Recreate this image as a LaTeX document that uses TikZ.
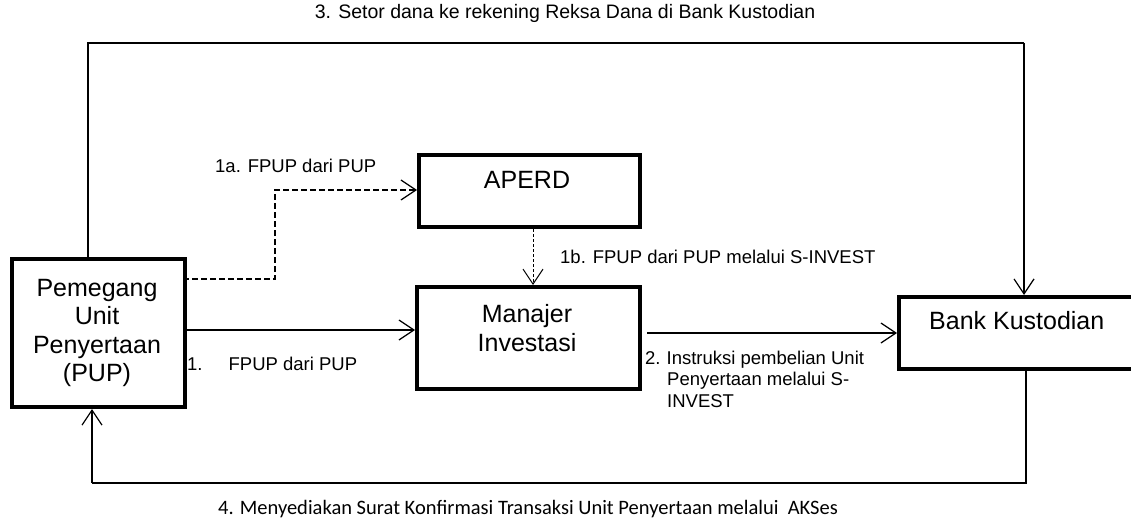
\documentclass[tikz,border=0pt]{standalone}
\usepackage{fontspec}
\setmainfont{Liberation Sans}
\newfontfamily\calfont{Carlito}
\usetikzlibrary{arrows.meta}
\begin{document}
\begin{tikzpicture}[x=1pt,y=-1pt,
  boxst/.style={draw,line width=4pt,minimum width=#1,inner sep=0pt,anchor=north west},
  conn/.style={line width=1.3pt,-{Straight Barb[length=15pt,width=20pt,line width=1.2pt]}},
  plain/.style={line width=1.3pt},
  dashA/.style={line width=1.3pt,dash pattern=on 6pt off 3pt,-{Straight Barb[length=15pt,width=20pt,line width=1.2pt]}},
  dashB/.style={line width=0.9pt,dash pattern=on 3pt off 2pt,-{Straight Barb[length=15pt,width=20pt,line width=1.0pt]}},
  bigtxt/.style={font=\fontsize{25}{28.5}\selectfont,inner sep=0pt},
  lbl/.style={font=\fontsize{18.5}{21.5}\selectfont,inner sep=0pt,align=left},
]
\useasboundingbox (0,0) rectangle (1131,529);
% boxes
\node[boxst=173pt,minimum height=148pt] (pup) at (10,257) {};
\node[boxst=221pt,minimum height=72pt] (aperd) at (417,153) {};
\node[boxst=223pt,minimum height=102pt] (mi) at (415,285) {};
\node[boxst=245pt,minimum height=72pt] (bk) at (897,295) {};
% box texts
\node[bigtxt,align=center,anchor=center] (pupt) at (97,333) {Pemegang\\Unit\\Penyertaan\\(PUP)};
\node[bigtxt,anchor=base] (aperdt) at (527,189) {APERD};
\node[bigtxt,align=center,anchor=center] (mit) at (527,328) {Manajer\\Investasi};
\node[bigtxt,anchor=base west] (bkt) at (929,329) {Bank Kustodian};
% coordinates for routing
\coordinate (c1) at (88,43);
\coordinate (c2) at (1024,43);
\coordinate (c3) at (1026,483);
\coordinate (c4) at (92,483);
\coordinate (d1) at (183,279);
\coordinate (d2) at (275,279);
\coordinate (d3) at (275,190);
% connectors
\draw[plain] (pup.north -| c1) -- (c1) -- (c2);
\draw[conn] (c2) -- (bk.north -| c2);
\draw[plain] (bk.south -| c3) -- (c3) -- (c4);
\draw[conn] (c4) -- (pup.south -| c4);
\draw[conn] (pup.east |- 0,330) -- (mi.west |- 0,330);
\draw[dashA] (d1) -- (d2) -- (d3) -- (aperd.west |- d3);
\draw[dashB] (aperd.south -| 533,0) -- (mi.north -| 533,0);
\draw[conn] ([xshift=5pt]mi.east |- 0,333) -- (bk.west |- 0,333);
% labels
\node[font=\fontsize{19.5}{22}\selectfont,inner sep=0pt,anchor=base] (l3) at (565,19) {3. Setor dana ke rekening Reksa Dana di Bank Kustodian};
\node[font=\calfont\fontsize{20.5}{23}\selectfont,inner sep=0pt,anchor=base] (l4) at (528,514) {4. Menyediakan Surat Konfirmasi Transaksi Unit Penyertaan melalui\ \ AKSes};
\node[lbl,anchor=base west] (l1a) at (215,173) {1a. FPUP dari PUP};
\node[lbl,anchor=base west] (l1b) at (560,263) {1b. FPUP dari PUP melalui S-INVEST};
\node[lbl,anchor=base west] (l1) at (187,370) {1.\hspace{26pt}FPUP dari PUP};
\node[lbl,anchor=west] (l2) at (645,379) {2.\hspace{6pt}Instruksi pembelian Unit\\\hspace{22pt}Penyertaan melalui S-\\\hspace{22pt}INVEST};
\end{tikzpicture}
\end{document}
